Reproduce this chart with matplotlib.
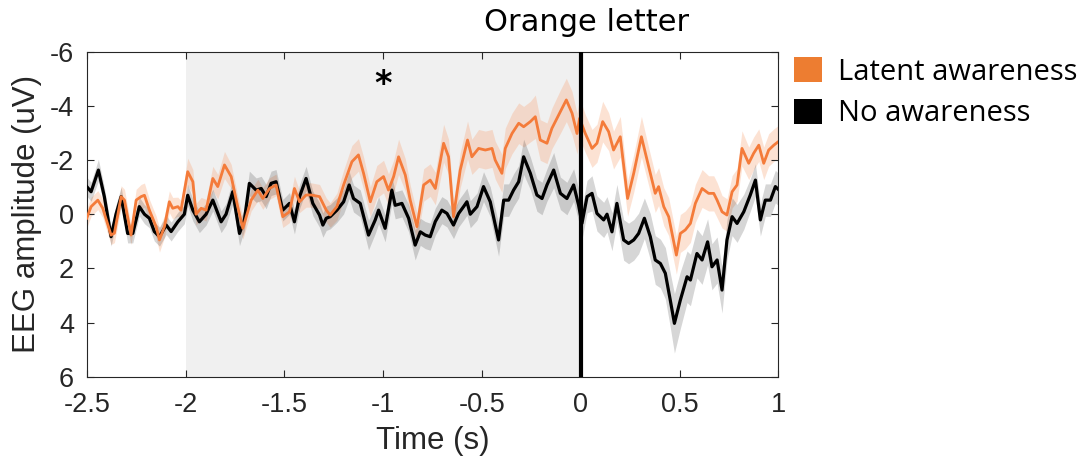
import numpy as np
import matplotlib
matplotlib.use('Agg')
import matplotlib.pyplot as plt
from matplotlib.patches import Patch

plt.rcParams['axes.unicode_minus'] = False

# latent awareness (orange): time (s), mean amplitude (uV), sem
lat_t = [-2.500, -2.478, -2.444, -2.419, -2.377, -2.360, -2.326, -2.309, -2.276, -2.250,
         -2.225, -2.208, -2.183, -2.149, -2.132, -2.107, -2.082, -2.065, -2.039, -2.023,
         -1.989, -1.963, -1.947, -1.921, -1.896, -1.862, -1.837, -1.803, -1.769, -1.736,
         -1.710, -1.668, -1.634, -1.609, -1.575, -1.542, -1.508, -1.474, -1.449, -1.423,
         -1.390, -1.364, -1.322, -1.288, -1.268, -1.234, -1.200, -1.158, -1.125, -1.099,
         -1.065, -1.032, -0.998, -0.973, -0.947, -0.922, -0.888, -0.863, -0.829, -0.795,
         -0.762, -0.736, -0.694, -0.669, -0.644, -0.610, -0.573, -0.551, -0.517, -0.483,
         -0.449, -0.433, -0.399, -0.382, -0.348, -0.314, -0.289, -0.255, -0.230, -0.205,
         -0.171, -0.146, -0.103, -0.073, -0.044, -0.019, -0.006, 0.023, 0.057, 0.082,
         0.111, 0.141, 0.166, 0.200, 0.237, 0.268, 0.307, 0.344, 0.377, 0.394,
         0.420, 0.445, 0.484, 0.504, 0.529, 0.555, 0.580, 0.614, 0.647, 0.673,
         0.690, 0.715, 0.740, 0.766, 0.791, 0.816, 0.850, 0.875, 0.901, 0.926,
         0.951, 0.977, 1.000]
lat_m = [0.15, -0.28, -0.52, -0.22, 0.77, 0.70, -0.65, -0.52, 0.77, -0.52,
         -0.65, -0.70, -0.15, 0.46, 0.95, 0.46, -0.46, -0.22, -0.28, -0.15,
         -1.57, -1.20, 0.00, -0.22, -0.15, -1.32, -1.02, -1.82, -1.39, -0.28,
         0.52, -0.52, -0.89, -0.58, -0.95, -1.08, 0.09, -0.09, -0.95, -0.46,
         -0.71, -0.71, -0.65, -0.15, 0.03, -0.28, -1.08, -1.94, -2.19, -1.51,
         -0.46, -1.20, -1.39, -0.89, -1.39, -2.12, -1.45, -0.52, 0.46, -1.08,
         -1.26, -0.95, -2.62, -2.12, 0.09, -1.63, -2.74, -2.12, -2.43, -2.37,
         -2.43, -2.00, -1.51, -2.43, -2.98, -3.36, -3.23, -3.42, -3.60, -2.74,
         -2.62, -3.17, -3.79, -4.22, -3.73, -2.98, -3.54, -2.98, -2.43, -2.62,
         -3.42, -3.05, -2.37, -2.86, -0.58, -1.51, -2.86, -1.75, -0.77, -1.02,
         -0.28, 0.09, 1.51, 0.71, 0.58, 0.34, -0.40, -0.95, -0.77, -0.77,
         -0.52, -0.09, 0.03, -0.83, -1.08, -2.43, -1.88, -2.25, -2.55, -1.88,
         -2.37, -2.55, -2.68]
lat_se = [0.35, 0.35, 0.35, 0.35, 0.35, 0.35, 0.40, 0.40, 0.35, 0.40,
          0.45, 0.45, 0.40, 0.40, 0.45, 0.40, 0.40, 0.40, 0.35, 0.35,
          0.50, 0.45, 0.40, 0.40, 0.40, 0.45, 0.45, 0.50, 0.45, 0.40,
          0.40, 0.40, 0.40, 0.40, 0.40, 0.40, 0.40, 0.40, 0.45, 0.40,
          0.45, 0.45, 0.45, 0.45, 0.45, 0.50, 0.55, 0.60, 0.60, 0.60,
          0.55, 0.60, 0.60, 0.60, 0.60, 0.65, 0.60, 0.55, 0.50, 0.60,
          0.60, 0.60, 0.70, 0.65, 0.55, 0.65, 0.70, 0.65, 0.70, 0.70,
          0.70, 0.70, 0.70, 0.75, 0.75, 0.75, 0.75, 0.75, 0.80, 0.75,
          0.75, 0.75, 0.80, 0.80, 0.80, 0.75, 0.75, 0.70, 0.70, 0.70,
          0.75, 0.70, 0.70, 0.75, 0.65, 0.70, 0.75, 0.70, 0.70, 0.70,
          0.70, 0.70, 0.70, 0.70, 0.70, 0.70, 0.70, 0.70, 0.65, 0.65,
          0.65, 0.60, 0.60, 0.60, 0.60, 0.65, 0.60, 0.60, 0.60, 0.60,
          0.60, 0.60, 0.60]

# no awareness (black)
no_t = [-2.500, -2.478, -2.441, -2.411, -2.377, -2.352, -2.326, -2.293, -2.267, -2.234,
        -2.208, -2.183, -2.158, -2.132, -2.098, -2.073, -2.039, -2.006, -1.989, -1.963,
        -1.930, -1.896, -1.862, -1.820, -1.795, -1.761, -1.727, -1.702, -1.677, -1.643,
        -1.617, -1.592, -1.567, -1.542, -1.508, -1.474, -1.449, -1.423, -1.390, -1.356,
        -1.322, -1.305, -1.288, -1.268, -1.234, -1.200, -1.172, -1.150, -1.116, -1.074,
        -1.040, -1.023, -0.990, -0.956, -0.939, -0.905, -0.871, -0.838, -0.812, -0.787,
        -0.762, -0.736, -0.703, -0.677, -0.644, -0.618, -0.593, -0.576, -0.559, -0.525,
        -0.492, -0.458, -0.416, -0.390, -0.365, -0.340, -0.314, -0.289, -0.255, -0.222,
        -0.196, -0.171, -0.137, -0.103, -0.070, -0.036, -0.011, 0.006, 0.032, 0.057,
        0.082, 0.116, 0.133, 0.158, 0.183, 0.217, 0.242, 0.268, 0.293, 0.322,
        0.352, 0.377, 0.403, 0.428, 0.453, 0.474, 0.504, 0.538, 0.555, 0.588,
        0.614, 0.642, 0.664, 0.690, 0.715, 0.740, 0.766, 0.791, 0.825, 0.858,
        0.884, 0.909, 0.934, 0.960, 0.985, 1.002]
no_m = [-1.02, -0.83, -1.63, -0.65, 0.83, 0.00, -0.65, 0.71, 0.71, -0.28,
        0.00, 0.15, 0.64, 0.83, 0.40, 0.64, 0.28, 0.00, -0.70, -0.15,
        0.28, 0.00, -0.52, 0.28, 0.00, -0.83, 0.71, 0.20, -1.14, -0.89,
        -0.95, -0.65, -1.14, -1.20, -0.15, -0.40, 0.28, -0.65, -1.32, -0.40,
        0.03, 0.40, 0.15, 0.09, -0.15, -0.46, -1.08, -0.58, -0.40, 0.77,
        0.21, -0.15, 0.52, -0.89, -0.33, -0.40, 0.15, 1.14, 0.65, 0.77,
        0.83, 0.27, -0.15, -0.03, 0.40, -0.03, -0.28, -0.46, 0.00, -0.28,
        -1.02, -0.46, 0.95, -0.52, -0.52, -0.89, -1.20, -2.12, -1.51, -0.71,
        -0.58, -1.08, -1.63, -0.77, -0.58, -1.08, -0.34, 0.34, -0.65, -0.77,
        -0.03, 0.21, 0.00, 0.65, -0.40, 0.95, 1.08, 0.95, 0.71, 0.15,
        0.83, 1.69, 1.82, 2.18, 3.17, 4.03, 3.17, 2.31, 2.43, 1.45,
        1.69, 1.02, 1.94, 1.69, 2.80, 0.95, 0.09, 0.34, -0.09, -0.71,
        -1.26, 0.21, -0.52, -0.52, -1.02, -0.90]
no_se = [0.35, 0.35, 0.40, 0.35, 0.35, 0.35, 0.35, 0.35, 0.35, 0.35,
         0.35, 0.35, 0.35, 0.35, 0.35, 0.35, 0.35, 0.35, 0.40, 0.40,
         0.40, 0.40, 0.40, 0.40, 0.40, 0.45, 0.45, 0.40, 0.45, 0.45,
         0.45, 0.45, 0.45, 0.45, 0.40, 0.40, 0.45, 0.45, 0.45, 0.45,
         0.45, 0.45, 0.45, 0.45, 0.45, 0.45, 0.50, 0.50, 0.50, 0.55,
         0.50, 0.50, 0.50, 0.50, 0.50, 0.50, 0.50, 0.55, 0.50, 0.50,
         0.50, 0.50, 0.50, 0.50, 0.50, 0.50, 0.50, 0.50, 0.50, 0.50,
         0.55, 0.55, 0.60, 0.60, 0.60, 0.60, 0.60, 0.65, 0.60, 0.60,
         0.60, 0.60, 0.65, 0.60, 0.60, 0.60, 0.60, 0.60, 0.60, 0.65,
         0.65, 0.65, 0.65, 0.70, 0.70, 0.75, 0.75, 0.75, 0.75, 0.75,
         0.85, 0.90, 0.90, 0.95, 1.00, 1.10, 1.05, 0.95, 0.95, 0.90,
         0.90, 0.85, 0.85, 0.85, 0.85, 0.75, 0.70, 0.70, 0.65, 0.60,
         0.60, 0.60, 0.60, 0.60, 0.60, 0.60]

xticks = [-2.5, -2, -1.5, -1, -0.5, 0, 0.5, 1]
xticklabels = ['-2.5', '-2', '-1.5', '-1', '-0.5', '0', '0.5', '1']
yticks = [-6, -4, -2, 0, 2, 4, 6]

orange = '#F47B3A'
orange_patch = '#ED7D31'
txt = '#262626'

fig = plt.figure(figsize=(10.83, 4.66), dpi=100)
ax = fig.add_axes([0.0801, 0.1916, 0.6386, 0.6974])

# baseline window
ax.axvspan(-2, 0, color='#F0F0F0', lw=0, zorder=0)

lt, lm, ls = np.array(lat_t), np.array(lat_m), np.array(lat_se)
nt, nm, ns = np.array(no_t), np.array(no_m), np.array(no_se)

ax.fill_between(lt, lm - ls, lm + ls, color='#F8A070', alpha=0.3, lw=0, zorder=1)
ax.fill_between(nt, nm - ns, nm + ns, color='black', alpha=0.16, lw=0, zorder=1)
ax.plot(nt, nm, color='black', lw=2.3, zorder=3)
ax.plot(lt, lm, color=orange, lw=2.0, zorder=4)

ax.axvline(0, color='black', lw=3, zorder=5)
ax.text(-1, -4.8, '*', fontsize=24, fontweight='bold', ha='center', va='center')

ax.set_xlim(-2.5, 1.0)
ax.set_ylim(6, -6)
ax.set_xticks(xticks)
ax.set_xticklabels(xticklabels)
ax.set_yticks(yticks)
ax.set_yticklabels([str(v) for v in yticks])
ax.tick_params(direction='in', top=True, right=True, length=5, width=0.8,
               labelsize=19.5, colors=txt, labelcolor=txt)
ax.tick_params(axis='x', pad=11)
ax.tick_params(axis='y', pad=9)
for lab in ax.get_xticklabels() + ax.get_yticklabels():
    lab.set_family('Liberation Sans')
for sp in ax.spines.values():
    sp.set_color(txt)
    sp.set_linewidth(0.8)

ax.set_xlabel('Time (s)', fontsize=22.5, family='Liberation Sans', color=txt, labelpad=6)
ax.set_ylabel('EEG amplitude (uV)', fontsize=22.5, family='Liberation Sans', color=txt, labelpad=6)
ax.set_title('Orange letter', x=0.722, fontsize=22, family='DejaVu Sans', pad=15)

handles = [Patch(facecolor=orange_patch, edgecolor='none', label='Latent awareness'),
           Patch(facecolor='black', edgecolor='none', label='No awareness')]
fig.legend(handles=handles, loc='upper left', bbox_to_anchor=(0.733, 0.877), frameon=False,
           borderpad=0, borderaxespad=0, handlelength=0.95, handleheight=0.95,
           handletextpad=0.55, labelspacing=0.4,
           prop={'family': 'Open Sans', 'size': 21})

fig.savefig('out.png', dpi=100)
